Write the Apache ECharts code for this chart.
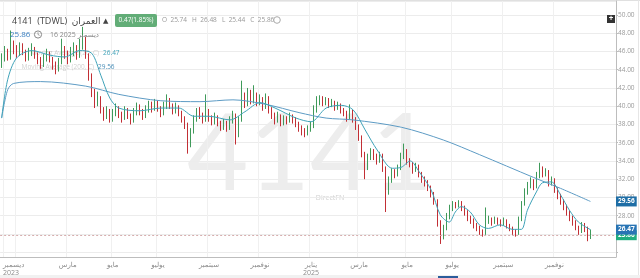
<!DOCTYPE html>
<html><head><meta charset="utf-8">
<script src="https://cdn.jsdelivr.net/npm/echarts@6/dist/echarts.min.js"></script>
<style>html,body{margin:0;padding:0;background:#fff;overflow:hidden}#c{width:640px;height:278px}</style>
</head><body><div id="c"></div>
<script>
// ---- data (daily candles) ----
const opens=[44.6,45.2,46.0,45.3,46.8,46.3,45.7,46.4,46.0,45.3,
45.8,46.3,45.6,45.1,44.6,45.1,45.8,45.1,44.6,44.0,
44.8,46.2,45.7,45.0,45.9,46.4,45.5,46.8,47.2,45.6,
43.2,41.5,40.3,40.9,39.6,38.9,39.4,38.6,39.2,39.8,
39.1,38.7,39.5,39.0,38.4,39.3,39.9,39.4,38.9,39.6,
40.1,39.7,40.3,39.8,39.2,40.0,40.6,40.1,39.5,39.9,
39.3,38.6,38.0,35.8,37.2,38.6,39.3,39.0,38.5,39.4,
38.7,38.3,38.8,38.1,37.7,38.2,37.6,38.4,39.0,36.8,
38.5,40.8,40.2,41.5,40.6,41.2,40.4,40.8,39.9,40.9,
39.6,39.0,38.4,38.9,38.2,38.6,38.4,38.9,38.5,38.1,
37.6,37.2,37.0,37.5,37.8,39.6,40.5,40.9,40.4,40.7,
40.2,40.3,39.9,40.1,39.6,39.3,38.7,39.4,38.6,37.8,
36.6,34.8,33.2,34.4,35.0,34.5,34.0,34.6,33.2,30.6,
31.9,32.8,32.5,33.2,34.5,35.0,34.0,33.7,33.0,33.4,
32.6,32.0,31.6,31.1,30.4,29.6,27.3,25.8,26.6,27.9,
28.8,29.3,29.1,29.4,28.9,28.4,27.8,27.5,27.0,26.7,
26.3,26.1,27.4,27.6,27.3,27.6,27.4,27.1,27.4,26.9,
26.6,26.2,26.0,27.6,29.3,30.6,31.3,31.8,31.2,32.4,
33.1,32.6,32.8,31.6,31.9,30.9,30.2,29.6,29.0,28.4,
27.8,27.3,26.8,26.3,26.9,26.6,25.74];
const closes=[45.2,46.0,45.4,46.8,46.2,45.8,46.5,46.0,45.3,45.9,
46.3,45.6,45.0,44.6,45.2,45.8,45.1,44.5,44.0,44.8,
46.2,45.7,45.0,45.9,46.4,45.5,46.8,47.3,45.6,43.2,
41.5,40.3,40.9,39.6,38.9,39.4,38.6,39.2,39.8,39.1,
38.7,39.5,39.0,38.4,39.3,39.9,39.4,38.9,39.6,40.1,
39.7,40.3,39.8,39.2,40.0,40.6,40.1,39.5,39.9,39.3,
38.6,38.0,35.8,37.2,38.6,39.3,39.0,38.5,39.4,38.7,
38.3,38.8,38.1,37.7,38.2,37.6,38.4,39.0,36.8,38.5,
40.8,40.2,41.5,40.6,41.2,40.4,40.8,39.9,40.9,39.6,
39.0,38.4,38.9,38.2,38.6,38.4,38.9,38.5,38.1,37.6,
37.2,37.0,37.5,37.8,39.6,40.5,40.9,40.4,40.7,40.2,
40.3,39.9,40.1,39.6,39.3,38.7,39.4,38.6,37.8,36.6,
34.8,33.2,34.4,35.0,34.5,34.0,34.6,33.2,30.6,31.9,
32.8,32.5,33.2,34.5,35.0,34.0,33.7,33.0,33.4,32.6,
32.0,31.6,31.1,30.4,29.6,27.3,25.8,26.6,27.9,28.8,
29.3,29.1,29.4,28.9,28.4,27.8,27.5,27.0,26.7,26.3,
26.1,27.4,27.6,27.3,27.6,27.4,27.1,27.4,26.9,26.6,
26.2,26.0,27.6,29.3,30.6,31.3,31.8,31.2,32.4,33.1,
32.6,32.8,31.6,31.9,30.9,30.2,29.6,29.0,28.4,27.8,
27.3,26.8,26.3,26.9,26.6,25.39,25.86];
const lows=[44.2,44.9,45.0,45.1,45.7,45.3,45.5,45.6,44.9,45.0,
45.5,45.2,44.6,44.1,44.3,44.9,44.8,44.0,43.5,43.8,
44.6,45.2,44.6,44.8,45.5,45.1,45.3,46.2,45.2,42.8,
41.0,39.8,40.0,39.2,38.4,38.6,38.2,38.3,38.9,38.7,
38.2,38.5,38.6,38.0,38.2,39.0,39.0,38.5,38.7,39.3,
39.3,39.5,39.4,38.8,39.0,39.7,39.7,39.1,39.2,38.9,
38.2,37.5,34.8,35.5,37.0,38.3,38.6,38.1,38.3,38.3,
37.9,38.0,37.8,37.3,37.4,37.2,37.4,38.1,35.8,36.6,
38.3,39.8,40.0,40.2,40.3,40.0,40.1,39.5,39.7,39.2,
38.6,38.0,38.2,37.8,37.9,38.0,38.2,38.1,37.7,37.2,
36.8,36.6,36.8,37.2,37.6,39.3,40.1,40.0,40.1,39.8,
39.9,39.5,39.6,39.2,38.9,38.3,38.5,38.2,37.4,36.2,
34.4,32.0,33.0,34.1,34.1,33.6,33.8,32.8,28.4,30.3,
31.6,32.1,32.3,33.0,34.2,33.6,33.3,32.6,32.8,32.2,
31.6,31.2,30.7,30.0,29.2,26.8,24.9,25.4,26.4,27.6,
28.5,28.8,28.9,28.5,28.0,27.4,27.1,26.6,26.3,25.9,
25.7,25.9,27.1,26.9,27.1,27.0,26.8,26.9,26.6,26.3,
25.9,25.7,25.9,27.4,29.1,30.3,31.0,30.8,31.0,32.1,
32.2,32.3,31.2,31.3,30.5,29.8,29.2,28.6,28.0,27.4,
26.9,26.4,25.9,26.1,26.2,25.2,25.44];
const highs=[45.8,46.6,46.3,48.3,47.2,46.7,47.0,46.9,46.2,46.4,
46.9,46.5,45.9,45.4,45.7,46.3,46.0,45.4,44.9,45.3,
47.4,46.6,46.1,46.5,47.0,46.7,47.4,48.7,47.6,45.8,
43.6,41.9,41.6,41.1,39.9,40.0,39.7,39.7,40.3,40.0,
39.4,40.0,39.8,39.2,39.8,40.4,40.2,39.7,40.1,40.6,
40.5,40.8,40.6,40.0,40.5,41.3,40.9,40.3,40.4,40.1,
39.5,38.9,38.2,37.6,39.0,39.8,39.9,39.3,41.3,39.7,
39.0,39.3,39.0,38.4,38.6,38.4,38.9,39.5,39.2,38.9,
42.8,41.5,42.0,41.8,42.3,41.5,41.3,41.0,41.4,41.1,
39.9,39.3,39.4,39.1,39.0,38.9,39.3,39.1,38.8,38.3,
37.9,37.6,37.9,38.3,40.1,41.1,41.2,41.1,41.0,40.9,
40.8,40.6,40.5,40.3,39.8,39.5,40.2,39.6,38.8,38.0,
36.8,35.0,34.8,35.4,35.3,34.8,35.0,34.8,33.4,32.3,
33.2,33.1,33.6,34.9,35.9,35.3,34.3,33.9,33.8,33.6,
32.8,32.3,31.9,31.3,30.6,29.8,27.5,27.0,28.3,29.2,
29.6,29.5,29.7,29.6,29.1,28.6,28.0,27.7,27.2,26.9,
26.5,28.9,28.0,27.8,27.9,27.8,27.6,27.8,27.6,27.1,
26.8,26.5,27.9,29.6,31.0,31.7,32.2,32.0,32.8,33.8,
33.4,33.2,33.0,32.3,32.1,31.1,30.4,29.8,29.2,28.6,
28.0,27.5,26.9,27.3,27.2,26.8,26.48];

// moving averages (read at the trading-day index where each point sits)
const ma20Idx=[0,2,5,10,16,21,26,30,33,36,39,46,53,59,64,69,76,81,86,91,98,103,108,113,117,121,125,130,133,136,139,143,146,149,151,153,156,159,162,166,170,173,175,178,180,183,186,189,192,196];
const ma20Val=[38.7,42.9,45.3,46.1,45.6,45.4,46.1,45.8,43.4,40.9,39.8,39.5,39.8,39.8,38.9,38.9,38.5,39.4,40.4,39.8,38.7,38.3,39.8,40.1,39.6,37.4,35.2,33.2,33.3,34.0,32.8,30.8,28.1,27.3,28.4,29.0,28.4,27.0,26.6,27.0,26.5,26.5,28.6,30.6,31.6,31.7,30.3,28.6,27.3,26.47];
const ma200Idx=[0,2,4,13,28,39,53,66,77,88,99,108,117,133,147,159,177,186,196];
const ma200Val=[38.7,41.8,42.5,42.7,42.2,41.3,40.6,40.5,40.7,40.2,39.3,38.7,38.5,37.7,36.3,34.7,32.2,31.0,29.56];

// axis
const SLOT_COUNT=205;
const tickSlots=[1,5,22,37,52,69,86,103,119,135,150,167,184];
const labelSlots={4:'{a|ديسمبر}\n{a|2023}',22:'مارس',37:'مايو',52:'يوليو',69:'سبتمبر',86:'نوفمبر',103:'يناير\n2025',119:'مارس',135:'مايو',150:'يوليو',167:'سبتمبر',184:'نوفمبر'};
const yMin=23.47, yMax=51.535;
const lastClose=25.86, ma20Last=26.47, ma200Last=29.56;

const slots=[];for(let i=0;i<SLOT_COUNT;i++)slots.push(String(i));
const candles=closes.map((c,i)=>[opens[i],c,lows[i],highs[i]]);
const ma20=ma20Idx.map((x,i)=>[x,ma20Val[i]]);
const ma200=ma200Idx.map((x,i)=>[x,ma200Val[i]]);

const UP='#3f9a5a', DOWN='#c22f35';
const LAT="'Open Sans','DejaVu Sans',sans-serif";
const chart=echarts.init(document.getElementById('c'),null,{renderer:'canvas'});
const badge=(bg,txt)=>({show:true,position:'end',distance:0,formatter:txt,fontSize:6.5,fontWeight:'bold',color:'#fff',backgroundColor:bg,padding:[2,2,1,2],fontFamily:LAT});
chart.setOption({
  animation:false,
  grid:{left:0,right:24,top:1,bottom:21},
  xAxis:{type:'category',data:slots,boundaryGap:true,
    axisLine:{lineStyle:{color:'#bdbdbd'}},
    axisTick:{alignWithLabel:true,length:3,lineStyle:{color:'#9a9a9a'},interval:(i)=>tickSlots.indexOf(i)>=0},
    splitLine:{show:true,lineStyle:{color:'#f0f0f0'},interval:(i)=>tickSlots.indexOf(i)>=0},
    axisLabel:{interval:(i)=>labelSlots[i]!==undefined,formatter:(v,i)=>labelSlots[i]||'',color:'#8a8a8a',fontSize:7,lineHeight:8,margin:4,fontFamily:LAT,
      rich:{a:{align:'left',fontSize:7,lineHeight:8,color:'#8a8a8a',fontFamily:LAT}}}
  },
  yAxis:{type:'value',position:'right',min:yMin,max:yMax,scale:true,splitNumber:14,minInterval:2,maxInterval:2,
    axisLine:{show:true,lineStyle:{color:'#bdbdbd'}},
    axisTick:{show:true,length:2,lineStyle:{color:'#bdbdbd'}},
    splitLine:{lineStyle:{color:'#ececec'}},
    axisLabel:{showMinLabel:false,showMaxLabel:false,margin:2,fontSize:6.5,color:'#9a9a9a',fontFamily:LAT,
      formatter:(v)=>(v>27&&v<50.5)?v.toFixed(2):''}
  },
  series:[
    {type:'candlestick',data:candles,barWidth:1,z:3,
      itemStyle:{color:UP,color0:DOWN,borderColor:UP,borderColor0:DOWN,borderWidth:1},
      markLine:{silent:true,symbol:'none',animation:false,
        lineStyle:{type:[2,2],color:'#d6aeae',width:1},
        label:badge('#20ad7f',String(lastClose)),
        data:[{yAxis:lastClose}]}},
    {type:'line',data:ma200,smooth:0.3,showSymbol:false,z:4,lineStyle:{color:'#5d9bc4',width:1},
      markLine:{silent:true,symbol:'none',animation:false,lineStyle:{color:'rgba(0,0,0,0)',width:0.1},label:badge('#1e6ea6',ma200Last.toFixed(2)),
        data:[{yAxis:ma200Last}]}},
    {type:'line',data:ma20,smooth:0.3,showSymbol:false,z:5,lineStyle:{color:'#3fa2b8',width:1},
      markLine:{silent:true,symbol:'none',animation:false,lineStyle:{color:'rgba(0,0,0,0)',width:0.1},label:badge('#2874b4',ma20Last.toFixed(2)),
        data:[{yAxis:ma20Last}]}}
  ],
  graphic:[
    {type:'text',z:0,silent:true,style:{text:'4141',x:310,y:156,textAlign:'center',textVerticalAlign:'middle',font:'normal 106px Lato, sans-serif',fill:'#ededed'}},
    {type:'text',z:0,silent:true,style:{text:'DirectFN',x:330,y:198,textAlign:'center',textVerticalAlign:'middle',font:'7px '+LAT,fill:'#d0d0d0'}},
    {type:'line',z:0,silent:true,shape:{x1:0,y1:0.5,x2:640,y2:0.5},style:{stroke:'#e0e0e0',lineWidth:1}},
    {type:'line',z:0,silent:true,shape:{x1:638.5,y1:0,x2:638.5,y2:278},style:{stroke:'#e6e6e6',lineWidth:1}},
    {type:'rect',z:0,silent:true,shape:{x:0,y:275,width:640,height:3},style:{fill:'#f1f1f1'}},
    {type:'rect',z:1,silent:true,shape:{x:438,y:276,width:20,height:2},style:{fill:'#2b5d9c'}},
    // header
    {type:'text',z:20,style:{text:'4141  (TDWL)  العمران',x:12,y:21,textVerticalAlign:'middle',font:'500 9px '+LAT,fill:'#444'}},
    {type:'text',z:20,style:{text:'▲',x:103,y:20.5,textVerticalAlign:'middle',font:'7px '+LAT,fill:'#444'}},
    {type:'rect',z:20,shape:{x:115,y:14,width:42,height:13,r:2},style:{fill:'#62ad77'}},
    {type:'text',z:21,style:{text:'0.47(1.85%)',x:136,y:20.5,textAlign:'center',textVerticalAlign:'middle',font:'6.5px '+LAT,fill:'#fff'}},
    {type:'text',z:20,style:{text:'O  25.74   H  26.48   L  25.44   C  25.86',x:162,y:20.5,textVerticalAlign:'middle',font:'6.5px '+LAT,fill:'#999'}},
    {type:'circle',z:20,shape:{cx:277,cy:20,r:3.3},style:{fill:'none',stroke:'#aaa',lineWidth:1}},
    {type:'text',z:20,style:{text:'25.86',x:10,y:34.5,textVerticalAlign:'middle',font:'8px '+LAT,fill:'#3a7fc0'}},
    {type:'circle',z:20,shape:{cx:38,cy:34.5,r:3.6},style:{fill:'none',stroke:'#888',lineWidth:1}},
    {type:'polyline',z:20,shape:{points:[[38,32.3],[38,34.5],[39.6,35.4]]},style:{fill:'none',stroke:'#888',lineWidth:0.8}},
    {type:'text',z:20,style:{text:'16 2025 ديسمبر',x:50,y:34.5,textVerticalAlign:'middle',font:'7px '+LAT,fill:'#888'}},
    {type:'text',z:1,style:{text:'Moving Average (20, C)',x:99,y:53,textAlign:'right',textVerticalAlign:'middle',font:'6.5px '+LAT,fill:'rgba(150,150,150,0.45)'}},
    {type:'text',z:20,style:{text:'26.47',x:103,y:53,textVerticalAlign:'middle',font:'6.5px '+LAT,fill:'#3fa2b8'}},
    {type:'text',z:1,style:{text:'Moving Average (200, C)',x:94,y:67,textAlign:'right',textVerticalAlign:'middle',font:'6.5px '+LAT,fill:'rgba(150,150,150,0.45)'}},
    {type:'text',z:20,style:{text:'29.56',x:98,y:67,textVerticalAlign:'middle',font:'6.5px '+LAT,fill:'#4b8fb8'}},
    {type:'rect',z:20,shape:{x:607,y:15,width:8,height:8},style:{fill:'#333'}},
    {type:'text',z:21,style:{text:'+',x:611,y:19,textAlign:'center',textVerticalAlign:'middle',font:'bold 8px '+LAT,fill:'#fff'}}
  ]
});
</script></body></html>
